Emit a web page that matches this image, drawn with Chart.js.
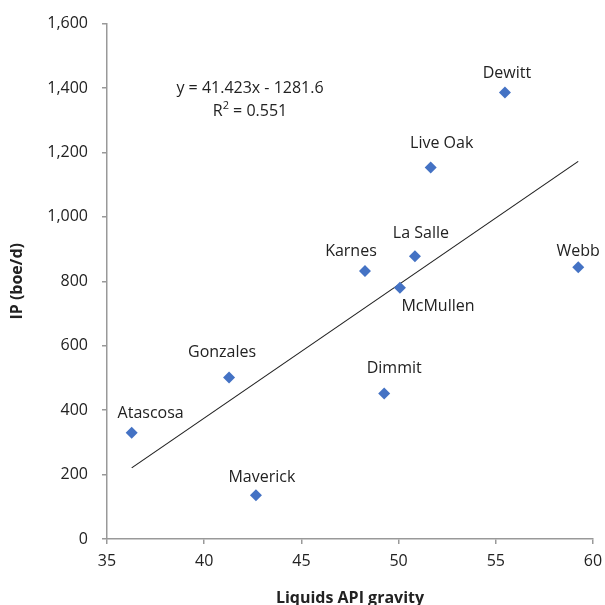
<!DOCTYPE html>
<html><head><meta charset="utf-8">
<script src="https://cdn.jsdelivr.net/npm/chart.js@4.4.0/dist/chart.umd.min.js"></script>
<style>html,body{margin:0;padding:0;background:#fff}#wrap{width:605px;height:605px}</style>
</head><body><div id="wrap"><canvas id="c" width="605" height="605"></canvas></div>
<script>
const counties = ["Atascosa","Gonzales","Maverick","Karnes","McMullen","La Salle","Dimmit","Live Oak","Dewitt","Webb"];
const apiGravity = [36.27, 41.28, 42.66, 48.27, 50.07, 50.84, 49.26, 51.65, 55.47, 59.24];
const ipBoe = [330, 501, 136, 832, 780, 878, 452, 1153, 1386, 844];
const trendSlope = 41.423;
const trendIntercept = -1281.6;
const xTicks = [35, 40, 45, 50, 55, 60];
const yTicks = [0, 200, 400, 600, 800, 1000, 1200, 1400, 1600];
const eqText = "y = 41.423x - 1281.6";
const r2Text = "0.551";

// label offsets (px) relative to point: styling only
const labelOffsets = {
  "Atascosa":[19,-19],"Gonzales":[-7,-25],"Maverick":[6,-18],"Karnes":[-14,-20],
  "McMullen":[38,19],"La Salle":[6,-23],"Dimmit":[10,-25],"Live Oak":[11,-24],
  "Dewitt":[2,-19],"Webb":[0,-16]
};

const pts = counties.map((n,i)=>({x:apiGravity[i], y:ipBoe[i], name:n}));
const xMin = Math.min(...apiGravity), xMax = Math.max(...apiGravity);
const trend = [{x:xMin, y:trendSlope*xMin+trendIntercept},{x:xMax, y:trendSlope*xMax+trendIntercept}];

const FONT = "'Open Sans', Lato, sans-serif";

const labelPlugin = {
  id:'labels',
  afterDatasetsDraw(chart){
    const ctx = chart.ctx;
    const meta = chart.getDatasetMeta(1);
    ctx.save();
    ctx.font = "16px " + FONT;
    ctx.fillStyle = "#222";
    ctx.textAlign = "center";
    ctx.textBaseline = "middle";
    meta.data.forEach((el,i)=>{
      const n = pts[i].name;
      const o = labelOffsets[n] || [0,-18];
      ctx.fillText(n, el.x + o[0], el.y + o[1]);
    });
    const ca = chart.chartArea;
    const cx = ca.left + 143;
    ctx.fillText(eqText, cx, 88);
    const base = "R";
    const rest = " = " + r2Text;
    const wR = ctx.measureText(base).width;
    ctx.font = "11px " + FONT;
    const w2 = ctx.measureText("2").width;
    ctx.font = "16px " + FONT;
    const wRest = ctx.measureText(rest).width;
    const total = wR + w2 + wRest;
    let sx = cx - total/2;
    ctx.textAlign = "left";
    ctx.fillText(base, sx, 111);
    ctx.font = "11px " + FONT;
    ctx.fillText("2", sx + wR, 106);
    ctx.font = "16px " + FONT;
    ctx.fillText(rest, sx + wR + w2, 111);
    ctx.restore();
  }
};

new Chart(document.getElementById('c'), {
  type:'scatter',
  data:{
    datasets:[
      {type:'line', data:trend, borderColor:'#222', borderWidth:1.2, pointRadius:0, fill:false, order:2},
      {data:pts, pointStyle:'rectRot', pointRadius:6, pointHoverRadius:6, backgroundColor:'#4472C4', borderColor:'#4472C4', borderWidth:0, order:1}
    ]
  },
  options:{
    responsive:false, animation:false, devicePixelRatio:1,
    layout:{padding:{top:22, right:3, left:0, bottom:0}},
    plugins:{legend:{display:false}, tooltip:{enabled:false}},
    scales:{
      x:{
        type:'linear', min:35, max:60,
        afterBuildTicks(s){ s.ticks = xTicks.map(v=>({value:v})); },
        afterFit(s){ s.height = 66; s.paddingRight = 12; },
        grid:{drawOnChartArea:false, drawTicks:true, tickLength:5, color:'#999', lineWidth:1.5},
        border:{color:'#999', width:1.5},
        ticks:{font:{family:FONT, size:16}, color:'#222', padding:8, maxRotation:0},
        title:{display:true, text:'Liquids API gravity', font:{family:FONT, size:16, weight:'bold'}, color:'#222', padding:{top:2,bottom:-3}}
      },
      y:{
        type:'linear', min:0, max:1600,
        afterBuildTicks(s){ s.ticks = yTicks.map(v=>({value:v})); },
        afterFit(s){ s.width = 107; },
        grid:{drawOnChartArea:false, drawTicks:true, tickLength:5, color:'#999', lineWidth:1.5},
        border:{color:'#999', width:1.5},
        ticks:{font:{family:FONT, size:16}, color:'#222', padding:14, callback:v=>v.toLocaleString('en-US')},
        title:{display:true, text:'IP (boe/d)', font:{family:FONT, size:16, weight:'bold'}, color:'#222', padding:{top:8,bottom:0}}
      }
    }
  },
  plugins:[labelPlugin]
});
</script></body></html>
